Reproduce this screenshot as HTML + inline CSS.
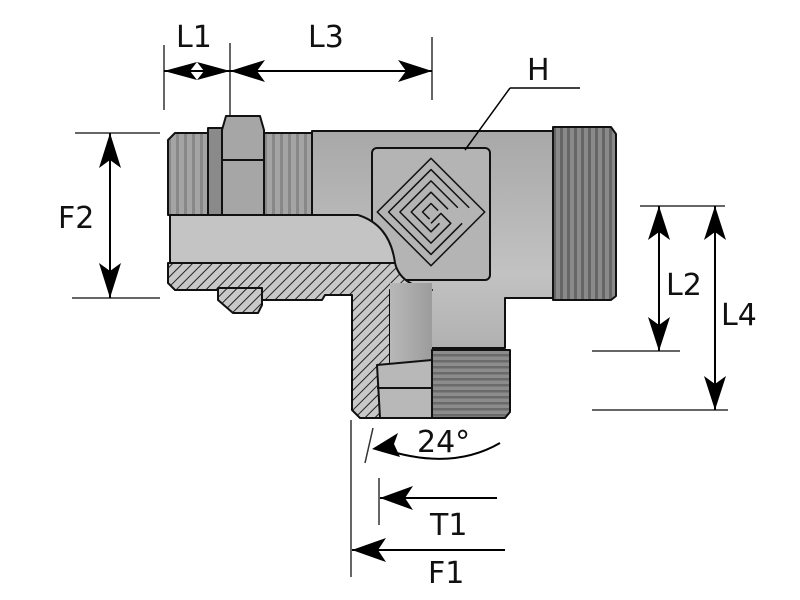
<!DOCTYPE html>
<html><head><meta charset="utf-8"><style>html,body{margin:0;padding:0;background:#fff}svg{display:block}text{font-family:"DejaVu Sans","Liberation Sans",sans-serif;font-size:30px;fill:#111}</style></head><body>
<svg width="800" height="600" viewBox="0 0 800 600" xmlns="http://www.w3.org/2000/svg">
<defs>
<pattern id="hatch" width="7" height="7" patternUnits="userSpaceOnUse" patternTransform="rotate(45)"><rect width="7" height="7" fill="#c8c8c8"/><line x1="0" y1="0" x2="0" y2="7" stroke="#222" stroke-width="2"/></pattern>
<pattern id="vth" width="7" height="10" patternUnits="userSpaceOnUse"><rect width="7" height="10" fill="#8a8a8a"/><rect width="3" height="10" fill="#666"/></pattern>
<pattern id="vthl" width="8" height="10" patternUnits="userSpaceOnUse"><rect width="8" height="10" fill="#a4a4a4"/><rect width="3" height="10" fill="#888"/></pattern>
<pattern id="hth" width="10" height="6" patternUnits="userSpaceOnUse"><rect width="10" height="6" fill="#8c8c8c"/><rect width="10" height="2.5" fill="#6a6a6a"/></pattern>
<linearGradient id="body" x1="0" x2="0" y1="0" y2="1"><stop offset="0" stop-color="#a8a8a8"/><stop offset="0.5" stop-color="#c2c2c2"/><stop offset="1" stop-color="#a0a0a0"/></linearGradient>
<linearGradient id="stem" x1="0" x2="1" y1="0" y2="0"><stop offset="0" stop-color="#b8b8b8"/><stop offset="1" stop-color="#9c9c9c"/></linearGradient>
</defs>
<g stroke="#111" stroke-width="2" stroke-linejoin="round">
<path d="M168 140 L175 133 L312 133 L312 215 L168 215 Z" fill="url(#vthl)"/>
<rect x="208" y="128" width="14" height="87" fill="#8a8a8a"/>
<path d="M226 116 L260 116 L264 130 L264 215 L222 215 L222 130 Z" fill="#a6a6a6"/>
<line x1="222" y1="160" x2="264" y2="160"/>
<path d="M312 131 L555 131 L555 298 L505 298 L505 348 L432 348 L432 418 L390 418 L390 290 L312 290 Z" fill="url(#body)"/>
<path d="M553 127 L611 127 L616 134 L616 296 L611 300 L553 300 Z" fill="url(#vth)"/>
<rect x="372" y="148" width="118" height="132" rx="5" fill="#b4b4b4"/>
<g fill="none" stroke-width="1.5" transform="translate(431 212) rotate(45)">
<rect x="-38" y="-38" width="76" height="76"/>
<path d="M24 -30 L-30 -30 L-30 30 L30 30 L30 -14"/>
<path d="M16 -22 L-22 -22 L-22 22 L22 22 L22 -6 L8 -6 L8 8"/>
<path d="M10 -14 L-14 -14 L-14 14 L14 14 L14 2"/>
<path d="M4 -6 L-6 -6 L-6 6 L4 6"/>
</g>
<path d="M170 215 L358 215 Q390 225 395 263 L170 263 Z" fill="#c4c4c4"/>
<path d="M168 263 L395 263 Q400 285 432 290 L390 290 L390 418 L360 418 L352 410 L352 295 L325 295 L322 300 L262 300 L258 290 L175 290 L168 283 Z" fill="url(#hatch)"/>
<path d="M218 288 L262 288 L262 305 L258 313 L233 313 L218 300 Z" fill="url(#hatch)"/>
<rect x="390" y="283" width="42" height="80" fill="url(#stem)" stroke="none"/>
<path d="M377 365 L432 360 L432 418 L380 418 Z" fill="#b8b8b8"/>
<line x1="377" y1="388" x2="432" y2="388"/>
<path d="M432 350 L510 350 L510 412 L505 418 L432 418 Z" fill="url(#hth)"/>
</g>
<g stroke="#333" stroke-width="1.5" fill="none">
<line x1="164" y1="45" x2="164" y2="110"/><line x1="230" y1="43" x2="230" y2="115"/><line x1="432" y1="37" x2="432" y2="100"/>
<line x1="164" y1="71" x2="432" y2="71" stroke="#000" stroke-width="2"/>
<line x1="75" y1="133" x2="160" y2="133"/><line x1="72" y1="298" x2="160" y2="298"/>
<line x1="110" y1="133" x2="110" y2="298" stroke="#000" stroke-width="2"/>
<line x1="640" y1="206" x2="725" y2="206"/><line x1="592" y1="351" x2="680" y2="351"/><line x1="592" y1="410" x2="728" y2="410"/>
<line x1="659" y1="206" x2="659" y2="351" stroke="#000" stroke-width="2"/>
<line x1="715" y1="206" x2="715" y2="410" stroke="#000" stroke-width="2"/>
<line x1="351" y1="420" x2="351" y2="577"/>
<line x1="373" y1="428" x2="365" y2="463"/>
<line x1="379" y1="478" x2="379" y2="525"/>
<line x1="380" y1="498" x2="497" y2="498" stroke="#000" stroke-width="2"/>
<line x1="352" y1="550" x2="505" y2="550" stroke="#000" stroke-width="2"/>
<path d="M500 443 Q450 472 380 448" stroke="#000" stroke-width="2"/>
<path d="M510 88 L580 88" stroke="#000" stroke-width="1.5"/>
<line x1="465" y1="150" x2="510" y2="88" stroke="#000" stroke-width="1.5"/>
</g>
<g fill="#000">
<path d="M164 71 L197 62 L190 71 L197 80 Z"/><path d="M230 71 L197 62 L204 71 L197 80 Z"/>
<path d="M230 71 L265 60 L257 71 L265 82 Z"/><path d="M432 71 L398 60 L406 71 L398 82 Z"/>
<path d="M110 133 L99 168 L110 160 L121 168 Z"/><path d="M110 298 L99 263 L110 271 L121 263 Z"/>
<path d="M659 206 L648 240 L659 232 L670 240 Z"/><path d="M659 351 L648 317 L659 325 L670 317 Z"/>
<path d="M715 206 L704 240 L715 232 L726 240 Z"/><path d="M715 410 L704 376 L715 384 L726 376 Z"/>
<path d="M380 498 L413 486 L405 498 L413 510 Z"/>
<path d="M352 550 L386 538 L378 550 L386 562 Z"/>
<path d="M372 449 L398 433 L394 444 L400 457 Z"/>
</g>
<text x="176" y="47">L1</text>
<text x="308" y="47">L3</text>
<text x="527" y="80">H</text>
<text x="58" y="228">F2</text>
<text x="666" y="295">L2</text>
<text x="721" y="325">L4</text>
<text x="417" y="452">24°</text>
<text x="430" y="535">T1</text>
<text x="428" y="583">F1</text>
</svg>
</body></html>
